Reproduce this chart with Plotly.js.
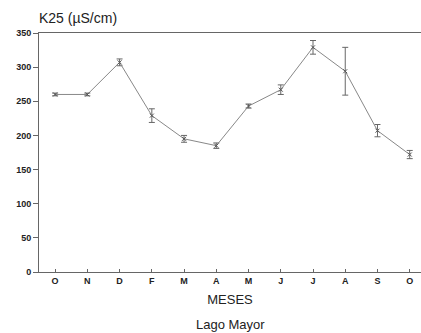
<!DOCTYPE html>
<html><head><meta charset="utf-8">
<script src="https://cdn.plot.ly/plotly-3.0.1.min.js"></script>
<style>html,body{margin:0;padding:0;background:#fff}</style>
</head><body><div id="chart" style="width:421px;height:333px"></div>
<script>
const months = ["O","N","D","F","M","A","M","J","J","A","S","O"];
const k25 = [260, 260, 307, 229, 195, 185, 243, 267, 329, 294, 207, 172];
const k25Err = [2, 2, 5, 10, 5, 4, 3, 7, 10, 35, 9, 6];
const idx = months.map((m, i) => i);

const F = 'Liberation Sans, Arial, sans-serif';
const trace = {
  x: idx, y: k25, type: 'scatter', mode: 'lines+markers',
  line: {color: '#888', width: 1},
  marker: {symbol: 'x-thin', size: 4, color: '#555', line: {color: '#555', width: 1}},
  error_y: {type: 'data', array: k25Err, visible: true, color: '#666', thickness: 1, width: 3}
};
const layout = {
  width: 421, height: 333,
  margin: {l: 39, r: 0, t: 33, b: 61},
  paper_bgcolor: '#fff', plot_bgcolor: '#fff',
  showlegend: false,
  font: {family: F, color: '#222'},
  xaxis: {
    range: [-0.5, 11.35], tickmode: 'array', tickvals: idx, ticktext: months,
    showgrid: false, zeroline: false, showline: true, linecolor: '#666', linewidth: 1, mirror: true,
    ticks: 'inside', ticklen: 3, tickcolor: '#666',
    tickfont: {family: F, size: 9, color: '#222', weight: 'bold'},
    title: {text: 'MESES', standoff: 10, font: {family: F, size: 13, color: '#222'}}
  },
  yaxis: {
    range: [0, 350], tickvals: [0,50,100,150,200,250,300,350],
    showgrid: false, zeroline: false, showline: true, linecolor: '#666', linewidth: 1,
    ticks: 'outside', ticklen: 5, tickcolor: '#666',
    tickfont: {family: F, size: 9, color: '#222', weight: 'bold'}
  },
  annotations: [
    {text: 'K25 (µS/cm)', xref: 'paper', yref: 'paper', x: -0.005, y: 1.02, xanchor: 'left', yanchor: 'bottom',
     showarrow: false, font: {family: F, size: 14, color: '#222'}},
    {text: 'Lago Mayor', xref: 'paper', yref: 'paper', x: 0.50, y: -0.18, xanchor: 'center', yanchor: 'top',
     showarrow: false, font: {family: F, size: 13, color: '#222'}}
  ]
};
Plotly.newPlot('chart', [trace], layout, {displayModeBar: false, staticPlot: true});
</script></body></html>
